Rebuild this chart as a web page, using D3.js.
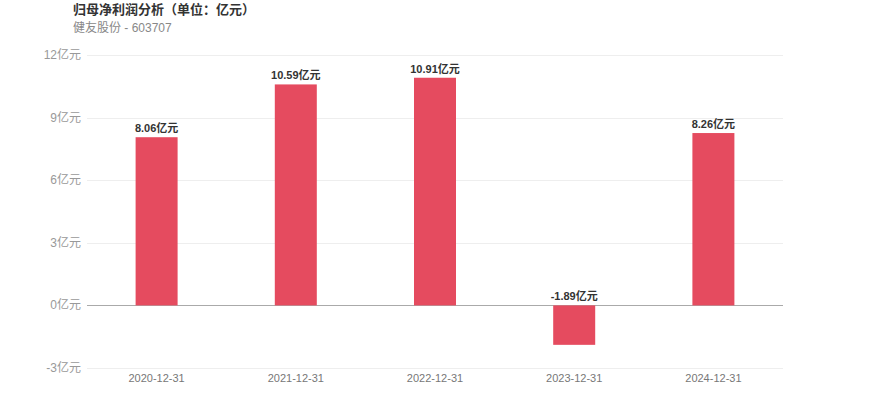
<!DOCTYPE html>
<html>
<head>
<meta charset="utf-8">
<script src="https://cdn.jsdelivr.net/npm/d3@7"></script>
<style>
body{margin:0;background:#fff;font-family:"Liberation Sans","Noto Sans CJK SC",sans-serif;}
</style>
</head>
<body>
<script>
var dates = ['2020-12-31','2021-12-31','2022-12-31','2023-12-31','2024-12-31'];
var profits = [8.06,10.59,10.91,-1.89,8.26];
var yTicks = [-3,0,3,6,9,12];

var width = 870, height = 417;
var margin = {top:55, right:87, bottom:49, left:87};

var svg = d3.select('body')
			.append('svg')
			.attr('width',width)
			.attr('height',height)
			.style('font-family','"Liberation Sans","Noto Sans CJK SC",sans-serif');

svg.append('text')
	.attr('x',73).attr('y',14)
	.attr('font-size',13).attr('font-weight','bold')
	.attr('fill','#333')
	.text('归母净利润分析（单位：亿元）');

svg.append('text')
	.attr('x',73).attr('y',32)
	.attr('font-size',12)
	.attr('fill','#888')
	.text('健友股份 - 603707');

var x = d3.scaleBand()
			.domain(dates)
			.range([margin.left,width-margin.right]);

var y = d3.scaleLinear()
			.domain([-3,12])
			.range([height-margin.bottom,margin.top]);

// grid
var grid = svg.append('g');
grid.selectAll('line')
	.data(yTicks)
	.enter()
	.append('line')
	.attr('x1',margin.left).attr('x2',width-margin.right)
	.attr('y1',(d)=>Math.round(y(d))+0.5).attr('y2',(d)=>Math.round(y(d))+0.5)
	.attr('stroke',(d)=>d===0?'#aaa':'#eee')
	.attr('stroke-width',1);

grid.selectAll('text')
	.data(yTicks)
	.enter()
	.append('text')
	.attr('x',81)
	.attr('y',(d)=>y(d)+4)
	.attr('text-anchor','end')
	.attr('font-size',12)
	.attr('fill','#999')
	.text((d)=>d+'亿元');

// x labels
var xAxis = d3.axisBottom(x).tickSize(0).tickPadding(0);
var gx = svg.append('g')
	.attr('transform','translate(0,'+(height-margin.bottom)+')')
	.call(xAxis);
gx.select('.domain').remove();
gx.selectAll('text')
	.attr('dy','0.71em')
	.attr('y',6)
	.attr('font-size',11)
	.attr('fill','#777')
	.attr('font-family','"Liberation Sans",sans-serif');

var barW = 42;
svg.append('g')
	.selectAll('rect')
	.data(profits)
	.enter()
	.append('rect')
	.attr('x',(d,i)=>x(dates[i])+x.bandwidth()/2-barW/2)
	.attr('y',(d)=>y(Math.max(d,0)))
	.attr('width',barW)
	.attr('height',(d)=>Math.abs(y(d)-y(0)))
	.attr('fill','#e54b5f');

svg.append('g')
	.selectAll('text')
	.data(profits)
	.enter()
	.append('text')
	.attr('x',(d,i)=>x(dates[i])+x.bandwidth()/2)
	.attr('y',(d)=>y(Math.max(d,0))-5)
	.attr('text-anchor','middle')
	.attr('font-size',11)
	.attr('font-weight','bold')
	.attr('fill','#333')
	.text((d)=>d.toFixed(2)+'亿元');
</script>
</body>
</html>
